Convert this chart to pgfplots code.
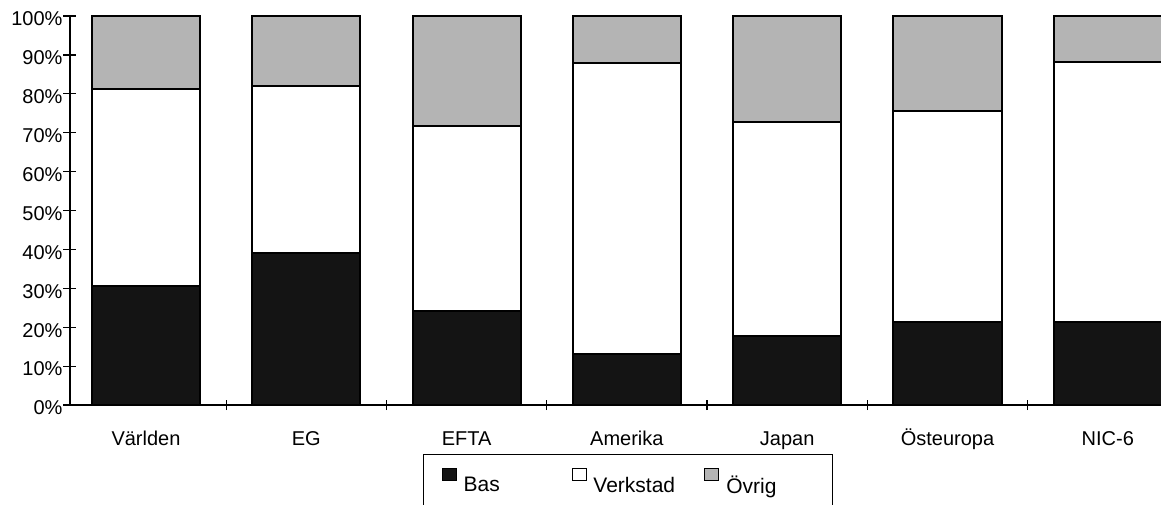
\documentclass[border=0pt]{standalone}
\usepackage{fontspec}
\setmainfont{Liberation Sans}
\usepackage{pgfplots}
\pgfplotsset{compat=1.18}
\usepackage{pgfplotstable}

% andelar i procent: Bas, Verkstad, Övrig
\pgfplotstableread{
x  bas   verk  ovr
0  30.6  50.6  18.8
1  39.1  43.0  17.9
2  24.2  47.5  28.3
3  13.1  74.8  12.1
4  17.7  55.1  27.2
5  21.3  54.3  24.4
6  21.3  66.9  11.8
}\andelar

\definecolor{basfarg}{HTML}{141414}
\definecolor{ovrfarg}{HTML}{B4B4B4}

\begin{document}
\begin{tikzpicture}
\begin{axis}[
  scale only axis,
  width=545.5pt, height=194.5pt,
  ybar stacked,
  bar width=0.674,
  xmin=-0.474, xmax=6.332,
  ymin=0, ymax=100,
  axis x line*=bottom,
  axis y line*=left,
  axis line style={line width=0.8pt},
  xtick={0,...,6},
  xticklabels={Världen,EG,EFTA,Amerika,Japan,Östeuropa,NIC-6},
  major x tick style={draw=none},
  minor xtick={0.5,1.5,...,5.5},
  minor tick length=5pt,
  ytick={0,10,...,100},
  yticklabel={\pgfmathprintnumber{\tick}\%},
  /pgf/number format/assume math mode=true,
  tick align=center,
  major tick length=6.5pt,
  tick style={black, line width=0.6pt},
  xticklabel style={anchor=base, yshift=-17pt},
  yticklabel style={xshift=3pt, yshift=-1.5pt},
  tick label style={font=\fontsize{10}{12}\selectfont},
  legend columns=3,
  legend style={at={(0.5115,-0.126)}, anchor=north, draw=black, line width=0.5pt,
    font=\fontsize{10.5}{12.5}\selectfont, inner xsep=9pt, inner ysep=6.5pt,
    /tikz/every odd column/.append style={column sep=1.5pt},
    /tikz/every even column/.append style={column sep=0pt}},
  legend image code/.code={\draw[#1, line width=0.4pt] (0pt,3pt) rectangle (7pt,9pt);},
  every axis plot/.append style={draw=black, line width=1pt},
]
\addplot[fill=basfarg] table[x=x, y=bas] {\andelar};
\addplot[fill=white] table[x=x, y=verk] {\andelar};
\addplot[fill=ovrfarg] table[x=x, y=ovr] {\andelar};
\legend{\makebox[52pt][l]{Bas}, \makebox[53.5pt][l]{Verkstad}, \makebox[42pt][l]{Övrig}}
\end{axis}
\pgfresetboundingbox
\path (current axis.south west) ++(-35pt,-49.5pt) rectangle ++(580.5pt,252pt);
\end{tikzpicture}
\end{document}
